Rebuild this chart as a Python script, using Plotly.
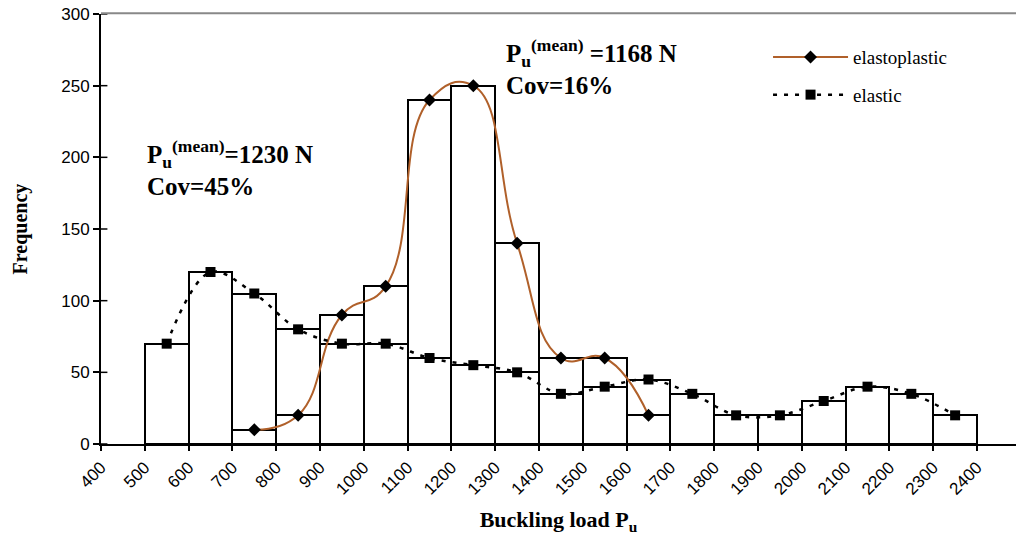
import plotly.graph_objects as go

# Data
bin_centers = [550, 650, 750, 850, 950, 1050, 1150, 1250, 1350, 1450, 1550, 1650,
               1750, 1850, 1950, 2050, 2150, 2250, 2350]
elastic = [70, 120, 105, 80, 70, 70, 60, 55, 50, 35, 40, 45, 35, 20, 20, 30, 40, 35, 20]

ep_centers = [750, 850, 950, 1050, 1150, 1250, 1350, 1450, 1550, 1650]
elastoplastic = [10, 20, 90, 110, 240, 250, 140, 60, 60, 20]

x_ticks = list(range(400, 2401, 100))
y_ticks = [0, 50, 100, 150, 200, 250, 300]

BROWN = "#B0602A"
SERIF = "Liberation Serif, Times New Roman, serif"
SANS = "Liberation Sans, Arial, sans-serif"

fig = go.Figure()

# Histogram bars (outlined)
fig.add_trace(go.Bar(x=bin_centers, y=elastic, width=100,
                     marker=dict(color="rgba(255,255,255,0)", line=dict(color="black", width=2)),
                     showlegend=False, hoverinfo="skip"))
fig.add_trace(go.Bar(x=ep_centers, y=elastoplastic, width=100,
                     marker=dict(color="rgba(255,255,255,0)", line=dict(color="black", width=2)),
                     showlegend=False, hoverinfo="skip"))

# Lines
fig.add_trace(go.Scatter(x=ep_centers, y=elastoplastic, mode="lines+markers",
                         name="elastoplastic", legendgroup="a",
                         line=dict(color=BROWN, width=2, shape="spline", smoothing=1.3),
                         marker=dict(symbol="diamond", size=10, color="black")))
fig.add_trace(go.Scatter(x=bin_centers, y=elastic, mode="lines+markers",
                         name="elastic", legendgroup="b",
                         line=dict(color="black", width=2.5, dash="4px,7px", shape="spline", smoothing=1.0),
                         marker=dict(symbol="square", size=10, color="black")))

fig.update_layout(
    width=1016, height=543,
    margin=dict(l=101, r=0, t=14, b=99),
    paper_bgcolor="white", plot_bgcolor="white",
    barmode="overlay", bargap=0,
    showlegend=True,
    legend=dict(x=0.729, y=0.944, xanchor="left", yanchor="top",
                font=dict(family=SERIF, size=19, color="black"),
                traceorder="grouped", tracegroupgap=10,
                bgcolor="rgba(0,0,0,0)", itemwidth=75),
    xaxis=dict(range=[400, 2489], tickvals=x_ticks, ticktext=[str(v) for v in x_ticks],
               tickangle=-45, ticks="outside", ticklen=5, tickcolor="black", tickwidth=1.5,
               showline=True, linecolor="black", linewidth=2, showgrid=False, zeroline=False,
               tickfont=dict(family=SANS, size=17, color="black"),
               title=dict(text="<b>Buckling load P<sub>u</sub></b>",
                          font=dict(family=SERIF, size=22, color="black"), standoff=14)),
    yaxis=dict(range=[0, 300], tickvals=y_ticks,
               ticks="outside", ticklen=6, tickcolor="black", tickwidth=1.5,
               showline=True, linecolor="black", linewidth=2, showgrid=False, zeroline=False,
               tickfont=dict(family=SANS, size=17, color="black")),
)

# y axis title placed as annotation
fig.add_annotation(x=-0.088, y=0.5, xref="paper", yref="paper", xanchor="center", yanchor="middle",
                   text="<b>Frequency</b>", textangle=-90, showarrow=False,
                   font=dict(family=SERIF, size=20, color="black"))

# inner half of y tick marks
for v in y_ticks:
    fig.add_shape(type="line", xref="paper", yref="y", x0=0, x1=0.007, y0=v, y1=v,
                  line=dict(color="black", width=1.5))

# top border line (gray)
fig.add_shape(type="line", xref="paper", yref="paper", x0=0, x1=1, y0=1.002, y1=1.002,
              line=dict(color="#888888", width=2))

fig.add_annotation(x=0.048, y=0.722, xref="paper", yref="paper", xanchor="left", yanchor="top",
                   text="<b>P<sub>u</sub><sup>(mean)</sup>=1230 N<br>Cov=45%</b>", showarrow=False,
                   align="left", font=dict(family=SERIF, size=25, color="black"))
fig.add_annotation(x=0.44, y=0.955, xref="paper", yref="paper", xanchor="left", yanchor="top",
                   text="<b>P<sub>u</sub><sup>(mean)</sup> =1168 N<br>Cov=16%</b>", showarrow=False,
                   align="left", font=dict(family=SERIF, size=25, color="black"))

fig.write_html("out.html")
